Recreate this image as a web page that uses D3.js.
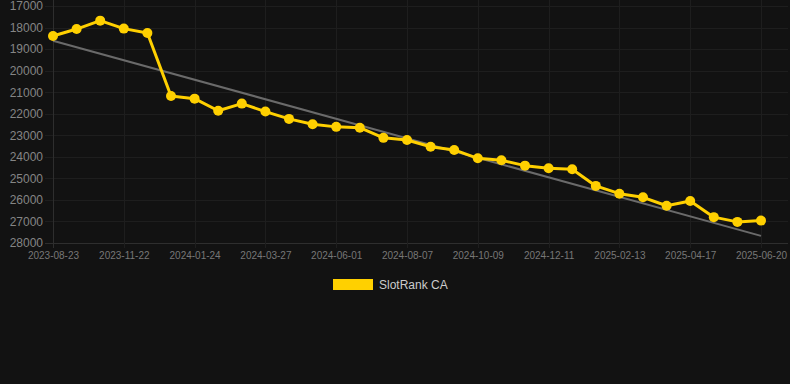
<!DOCTYPE html>
<html>
<head>
<meta charset="utf-8">
<script src="https://cdn.jsdelivr.net/npm/d3@7"></script>
<style>
  html, body { margin: 0; padding: 0; background: #121212; }
  svg { display: block; font-family: "Liberation Sans", Arial, Helvetica, sans-serif; }
</style>
</head>
<body>
<div id="chart"></div>
<script>
// dates on the x axis (only every third one is labelled)
var dates = [
  "2023-08-23", "2023-09-22", "2023-10-22", "2023-11-22", "2023-12-22", "2024-01-01",
  "2024-01-24", "2024-02-13", "2024-03-05", "2024-03-27", "2024-04-18", "2024-05-10",
  "2024-06-01", "2024-06-20", "2024-07-15", "2024-08-07", "2024-08-28", "2024-09-18",
  "2024-10-09", "2024-10-30", "2024-11-20", "2024-12-11", "2025-01-02", "2025-01-23",
  "2025-02-13", "2025-03-06", "2025-03-27", "2025-04-17", "2025-05-08", "2025-05-29",
  "2025-06-20"
];
// rank values
var ranks = [
  18390, 18070, 17680, 18050, 18250, 21180,
  21300, 21860, 21530, 21900, 22240, 22490,
  22610, 22650, 23120, 23220, 23530, 23680,
  24070, 24160, 24410, 24530, 24580, 25350,
  25710, 25880, 26270, 26050, 26800, 27020,
  26960
];
// trend line, first and last point
var trendRanks = [18610, 27670];
var yTicks = [17000, 18000, 19000, 20000, 21000, 22000, 23000, 24000, 25000, 26000, 27000, 28000];
var seriesName = "SlotRank CA";

var width = 790, height = 384;
var plotLeft = 53, plotRight = 761, gridRight = 788, plotTop = 6, plotBottom = 243;
var yellow = "#ffd000";

var svg = d3.select("#chart").append("svg")
    .attr("width", width)
    .attr("height", height);

svg.append("rect").attr("width", width).attr("height", height).attr("fill", "#121212");

var x = d3.scalePoint().domain(dates).range([plotLeft, plotRight]);
var y = d3.scaleLinear().domain([17000, 28000]).range([plotTop, plotBottom]);

var labelled = dates.filter(function (d, i) { return i % 3 === 0; });

// grid
svg.append("g").selectAll("line")
    .data(yTicks)
    .enter().append("line")
    .attr("x1", 45).attr("x2", gridRight)
    .attr("y1", function (d) { return Math.round(y(d)) + 0.5; })
    .attr("y2", function (d) { return Math.round(y(d)) + 0.5; })
    .attr("stroke", function (d) { return d === 28000 ? "#2e2e2e" : "#1e1e1e"; })
    .attr("stroke-width", 1);

svg.append("g").selectAll("line")
    .data(labelled)
    .enter().append("line")
    .attr("x1", function (d) { return Math.round(x(d)) + 0.5; })
    .attr("x2", function (d) { return Math.round(x(d)) + 0.5; })
    .attr("y1", 0).attr("y2", plotBottom + 5)
    .attr("stroke", function (d, i) { return i === 0 ? "#2e2e2e" : "#1e1e1e"; })
    .attr("stroke-width", 1);

// y axis labels
var yAxis = d3.axisLeft(y).tickValues(yTicks).tickSize(0).tickPadding(0).tickFormat(d3.format("d"));
var gy = svg.append("g")
    .attr("transform", "translate(43,0)")
    .call(yAxis);
gy.select(".domain").remove();
gy.selectAll("text").attr("fill", "#858585").attr("font-size", 12)
    .attr("font-family", "'Liberation Sans', Arial, sans-serif");

// x axis labels
var xAxis = d3.axisBottom(x).tickValues(labelled).tickSize(0).tickPadding(0);
var gx = svg.append("g")
    .attr("transform", "translate(0,252)")
    .call(xAxis);
gx.select(".domain").remove();
gx.selectAll("text").attr("fill", "#777").attr("font-size", 10)
    .attr("font-family", "'Liberation Sans', Arial, sans-serif");

// trend line
svg.append("line")
    .attr("x1", x(dates[0])).attr("y1", y(trendRanks[0]))
    .attr("x2", x(dates[dates.length - 1])).attr("y2", y(trendRanks[1]))
    .attr("stroke", "#6a6a6a")
    .attr("stroke-width", 2);

// series
var line = d3.line()
    .x(function (d, i) { return x(dates[i]); })
    .y(function (d) { return y(d); });

svg.append("path")
    .attr("d", line(ranks))
    .attr("fill", "none")
    .attr("stroke", yellow)
    .attr("stroke-width", 3)
    .attr("stroke-linejoin", "round");

svg.append("g").selectAll("circle")
    .data(ranks)
    .enter().append("circle")
    .attr("cx", function (d, i) { return x(dates[i]); })
    .attr("cy", function (d) { return y(d); })
    .attr("r", 5)
    .attr("fill", yellow);

// legend
svg.append("rect")
    .attr("x", 333).attr("y", 279)
    .attr("width", 40).attr("height", 11)
    .attr("fill", yellow);
svg.append("text")
    .attr("x", 379).attr("y", 289)
    .attr("fill", "#cccccc")
    .attr("font-size", 12)
    .text(seriesName);
</script>
</body>
</html>
